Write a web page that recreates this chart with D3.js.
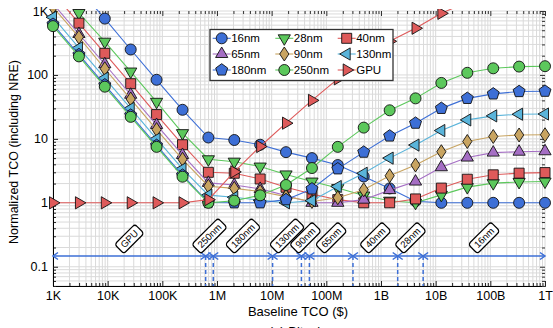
<!DOCTYPE html>
<html>
<head>
<meta charset="utf-8">
<script src="https://cdn.jsdelivr.net/npm/d3@7"></script>
<style>
  body { margin: 0; background: #fff; }
  svg { font-family: "Liberation Sans", Arial, sans-serif; }
</style>
</head>
<body>
<div id="chart"></div>
<script>
// baseline TCO ($) at each sample point
var baselineTco = [1e3, 2.98e3, 8.86e3, 2.64e4, 7.85e4, 2.34e5, 6.95e5, 2.07e6, 6.16e6, 1.83e7,
                   5.46e7, 1.62e8, 4.83e8, 1.44e9, 4.28e9, 1.27e10, 3.79e10, 1.13e11, 3.36e11, 1e12];

// normalized TCO per node
var tco16  = [6600, 2200, 760, 250, 84, 28.5, 10.5, 9.6, 8.1, 6.2, 5.0, 3.9, 2.58, 1.68, 1.06, 1, 1, 1, 1, 1];
var tco28  = [2900, 930, 331, 113, 38, 12.3, 4.8, 4.4, 3.69, 2.78, 2.15, 1.7, 1.3, 1.08, 1, 1.33, 1.76, 2.03, 2.12, 2.15];
var tco40  = [1930, 645, 218, 73, 24, 8.1, 3.0, 2.9, 2.36, 1.75, 1.37, 1.12, 1, 1, 1.15, 1.7, 2.34, 2.74, 2.91, 2.97];
var tco65  = [1300, 437, 147, 49, 16.5, 5.6, 2.05, 1.9, 1.65, 1.3, 1, 1, 1.12, 1.58, 2.15, 3.6, 5.1, 6.1, 6.3, 6.4];
var tco90  = [1150, 390, 125, 42, 14, 4.8, 1.82, 1.68, 1.5, 1.25, 1.05, 1.2, 1.6, 2.65, 3.9, 6.3, 9.1, 10.9, 11.5, 11.6];
var tco130 = [800, 265, 89, 30, 10, 3.4, 1.32, 1.22, 1.1, 1, 1.08, 1.8, 2.9, 5, 8, 13.5, 19.8, 22.9, 24.3, 24.5];
var tco180 = [620, 208, 70, 23.5, 7.9, 2.7, 1.01, 1, 1, 1.12, 1.65, 3.4, 6.2, 11.1, 17.6, 30, 43, 50.5, 55, 55.6];
var tco250 = [580, 195, 65.5, 22.1, 7.5, 2.56, 1, 1.08, 1.31, 1.9, 3.5, 7.5, 15, 28, 43, 75, 108, 127, 135, 137];
var tcoGpu = [1, 1, 1, 1, 1, 1, 1.12, 3.05, 7.6, 17.6, 40, 87, 178, 336, 537, 920, 1380, 1640, 1750, 1800];

var xTicks = [1e3, 1e4, 1e5, 1e6, 1e7, 1e8, 1e9, 1e10, 1e11, 1e12];
var xTickLabels = ["1K", "10K", "100K", "1M", "10M", "100M", "1B", "10B", "100B", "1T"];
var yTicks = [0.1, 1, 10, 100, 1000];
var yTickLabels = ["0.1", "1", "10", "100", "1K"];

// best option regions along the bottom
var regionNames = ["GPU", "250nm", "180nm", "130nm", "90nm", "65nm", "40nm", "28nm", "16nm"];
var regionEdges = [1e3, 6.2e5, 8.55e5, 1.04e7, 3.5e7, 4.9e7, 3.07e8, 2.02e9, 5.9e9, 1e12];

var series = [
  { name: "16nm",  values: tco16,  color: "#3d6fd6", shape: "circle" },
  { name: "28nm",  values: tco28,  color: "#5cc85c", shape: "tridown" },
  { name: "40nm",  values: tco40,  color: "#de5a5a", shape: "square" },
  { name: "65nm",  values: tco65,  color: "#a56ec4", shape: "triup" },
  { name: "90nm",  values: tco90,  color: "#c8a461", shape: "diamond" },
  { name: "130nm", values: tco130, color: "#5ab4da", shape: "trileft" },
  { name: "180nm", values: tco180, color: "#3d6fd6", shape: "pentagon" },
  { name: "250nm", values: tco250, color: "#5cc85c", shape: "circle" },
  { name: "GPU",   values: tcoGpu, color: "#de5a5a", shape: "triright" }
];

function markerPath(shape) {
  var p;
  if (shape == "circle") {
    var r = 5.5;
    return "M" + (-r) + ",0A" + r + "," + r + " 0 1,0 " + r + ",0A" + r + "," + r + " 0 1,0 " + (-r) + ",0Z";
  }
  if (shape == "square") p = [[-5, -5], [5, -5], [5, 5], [-5, 5]];
  if (shape == "triup") p = [[0, -7], [6.1, 3.5], [-6.1, 3.5]];
  if (shape == "tridown") p = [[0, 7], [6.1, -3.5], [-6.1, -3.5]];
  if (shape == "trileft") p = [[-7, 0], [3.5, -6.1], [3.5, 6.1]];
  if (shape == "triright") p = [[7, 0], [-3.5, -6.1], [-3.5, 6.1]];
  if (shape == "diamond") p = [[0, -7], [4.6, 0], [0, 7], [-4.6, 0]];
  if (shape == "pentagon") {
    p = [];
    for (var k = 0; k < 5; k++) {
      var a = -Math.PI / 2 + k * 2 * Math.PI / 5;
      p.push([6.3 * Math.cos(a), 6.3 * Math.sin(a)]);
    }
  }
  return "M" + p.map(function(d) { return d[0].toFixed(2) + "," + d[1].toFixed(2); }).join("L") + "Z";
}

var W = 553, H = 328;
var svg = d3.select("#chart").append("svg").attr("width", W).attr("height", H);

var x = d3.scaleLog().domain([1e3, 1e12]).range([53, 545]);
var y = d3.scaleLog().domain([0.05, 1000]).range([286, 11]);

// grid (major + minor)
var grid = svg.append("g").attr("stroke", "#dadada").attr("stroke-width", 1);
grid.selectAll("line.vx").data(x.ticks()).enter().append("line")
  .attr("x1", function(d) { return x(d); }).attr("x2", function(d) { return x(d); })
  .attr("y1", 11).attr("y2", 286);
grid.selectAll("line.hy").data(y.ticks()).enter().append("line")
  .attr("y1", function(d) { return y(d); }).attr("y2", function(d) { return y(d); })
  .attr("x1", 53).attr("x2", 545);

// axes
var minorX = x.ticks().filter(function(d) { return xTicks.indexOf(d) < 0; });
var minorY = y.ticks().filter(function(d) { return yTicks.indexOf(d) < 0; });

function styleAxis(g) {
  g.selectAll("text").attr("font-size", "12.5px").attr("fill", "#000")
    .attr("font-family", "Liberation Sans, Arial, sans-serif");
  g.selectAll("line").attr("stroke", "#222");
  g.select(".domain").attr("stroke", "#000");
}

svg.append("g").attr("transform", "translate(0,286)")
  .call(d3.axisBottom(x).tickValues(minorX).tickSizeInner(-3).tickSizeOuter(0).tickFormat(""))
  .call(styleAxis);
svg.append("g").attr("transform", "translate(0,286)")
  .call(d3.axisBottom(x).tickValues(xTicks).tickSizeInner(-5).tickSizeOuter(0).tickPadding(5)
    .tickFormat(function(d, i) { return xTickLabels[i]; }))
  .call(styleAxis);

svg.append("g").attr("transform", "translate(53,0)")
  .call(d3.axisLeft(y).tickValues(minorY).tickSizeInner(-3).tickSizeOuter(0).tickFormat(""))
  .call(styleAxis);
svg.append("g").attr("transform", "translate(53,0)")
  .call(d3.axisLeft(y).tickValues(yTicks).tickSizeInner(-5).tickSizeOuter(0).tickPadding(5)
    .tickFormat(function(d, i) { return yTickLabels[i]; }))
  .call(styleAxis);

// mirrored ticks on top and right, no line
var topG = svg.append("g").attr("transform", "translate(0,11)");
topG.append("g").call(d3.axisTop(x).tickValues(minorX).tickSizeInner(-3).tickSizeOuter(0).tickFormat(""));
topG.append("g").call(d3.axisTop(x).tickValues(xTicks).tickSizeInner(-5).tickSizeOuter(0).tickFormat(""));
var rightG = svg.append("g").attr("transform", "translate(545,0)");
rightG.append("g").call(d3.axisRight(y).tickValues(minorY).tickSizeInner(-3).tickSizeOuter(0).tickFormat(""));
rightG.append("g").call(d3.axisRight(y).tickValues(yTicks).tickSizeInner(-5).tickSizeOuter(0).tickFormat(""));
svg.selectAll("g").filter(function() { return this.parentNode === topG.node() || this.parentNode === rightG.node(); })
  .each(function() {
    d3.select(this).select(".domain").remove();
    d3.select(this).selectAll("line").attr("stroke", "#333");
  });

// axis titles
svg.append("text").attr("x", 298).attr("y", 316).attr("text-anchor", "middle")
  .attr("font-size", "13px").text("Baseline TCO ($)");
svg.append("text").attr("transform", "translate(18,152) rotate(-90)").attr("text-anchor", "middle")
  .attr("font-size", "12.5px").text("Normalized TCO (including NRE)");
svg.append("text").attr("x", 298).attr("y", 336).attr("text-anchor", "middle")
  .attr("font-size", "13px").text("(a) Bitcoin");

// region arrows
var ann = svg.append("g");
var arrowY = 256, blue = "#3d6fd6";
regionNames.forEach(function(name, i) {
  var a = x(regionEdges[i]), b = x(regionEdges[i + 1]);
  ann.append("line").attr("x1", a).attr("x2", b).attr("y1", arrowY).attr("y2", arrowY)
    .attr("stroke", blue).attr("stroke-width", 1.5);
  ann.append("path").attr("d", "M" + (a + 5) + "," + (arrowY - 3.5) + "L" + a + "," + arrowY + "L" + (a + 5) + "," + (arrowY + 3.5))
    .attr("fill", "none").attr("stroke", blue).attr("stroke-width", 1.5);
  ann.append("path").attr("d", "M" + (b - 5) + "," + (arrowY - 3.5) + "L" + b + "," + arrowY + "L" + (b - 5) + "," + (arrowY + 3.5))
    .attr("fill", "none").attr("stroke", blue).attr("stroke-width", 1.5);
});
regionEdges.slice(1, -1).forEach(function(e) {
  ann.append("line").attr("x1", x(e)).attr("x2", x(e)).attr("y1", arrowY).attr("y2", 286)
    .attr("stroke", blue).attr("stroke-width", 1.5).attr("stroke-dasharray", "4,3");
});
regionNames.forEach(function(name, i) {
  var mid = Math.sqrt(regionEdges[i] * regionEdges[i + 1]);
  var g = ann.append("g");
  var t = g.append("text").attr("text-anchor", "middle").attr("dy", "0.35em")
    .attr("font-size", "9.5px").text(name);
  var w = t.node().getComputedTextLength() + 8;
  g.insert("rect", "text").attr("x", -w / 2).attr("y", -6.5).attr("width", w).attr("height", 13)
    .attr("rx", 3).attr("fill", "#fff").attr("stroke", "#000").attr("stroke-width", 1.2);
  var cy = 249 - 0.707 * w / 2;
  g.attr("transform", "translate(" + x(mid) + "," + cy + ") rotate(-45)");
});

// series
svg.append("clipPath").attr("id", "clip").append("rect")
  .attr("x", 0).attr("y", 9).attr("width", W).attr("height", 282);
var plot = svg.append("g").attr("clip-path", "url(#clip)");
var line = d3.line()
  .x(function(d, i) { return x(baselineTco[i]); })
  .y(function(d) { return y(d); });

series.forEach(function(s) {
  var g = plot.append("g");
  g.append("path").attr("d", line(s.values)).attr("fill", "none")
    .attr("stroke", s.color).attr("stroke-width", 1.1);
  g.selectAll("path.m").data(s.values).enter().append("path")
    .attr("transform", function(d, i) { return "translate(" + x(baselineTco[i]) + "," + y(d) + ")"; })
    .attr("d", markerPath(s.shape))
    .attr("fill", s.color).attr("stroke", "#111").attr("stroke-width", 0.9);
});

// legend
var leg = svg.append("g");
leg.append("rect").attr("x", 210).attr("y", 29.5).attr("width", 183).attr("height", 51)
  .attr("fill", "#fff").attr("stroke", "#333").attr("stroke-width", 1.3);
var colX = [221.7, 284.3, 346.7], rowY = [38.3, 54, 70];
series.forEach(function(s, i) {
  var cx = colX[i % 3], cy = rowY[Math.floor(i / 3)];
  leg.append("line").attr("x1", cx - 9).attr("x2", cx + 9).attr("y1", cy).attr("y2", cy)
    .attr("stroke", s.color).attr("stroke-width", 1.1);
  leg.append("path").attr("transform", "translate(" + cx + "," + cy + ")")
    .attr("d", markerPath(s.shape)).attr("fill", s.color).attr("stroke", "#111").attr("stroke-width", 0.9);
  leg.append("text").attr("x", cx + 9.5).attr("y", cy).attr("dy", "0.36em")
    .attr("font-size", "11.5px").text(s.name);
});
</script>
</body>
</html>
